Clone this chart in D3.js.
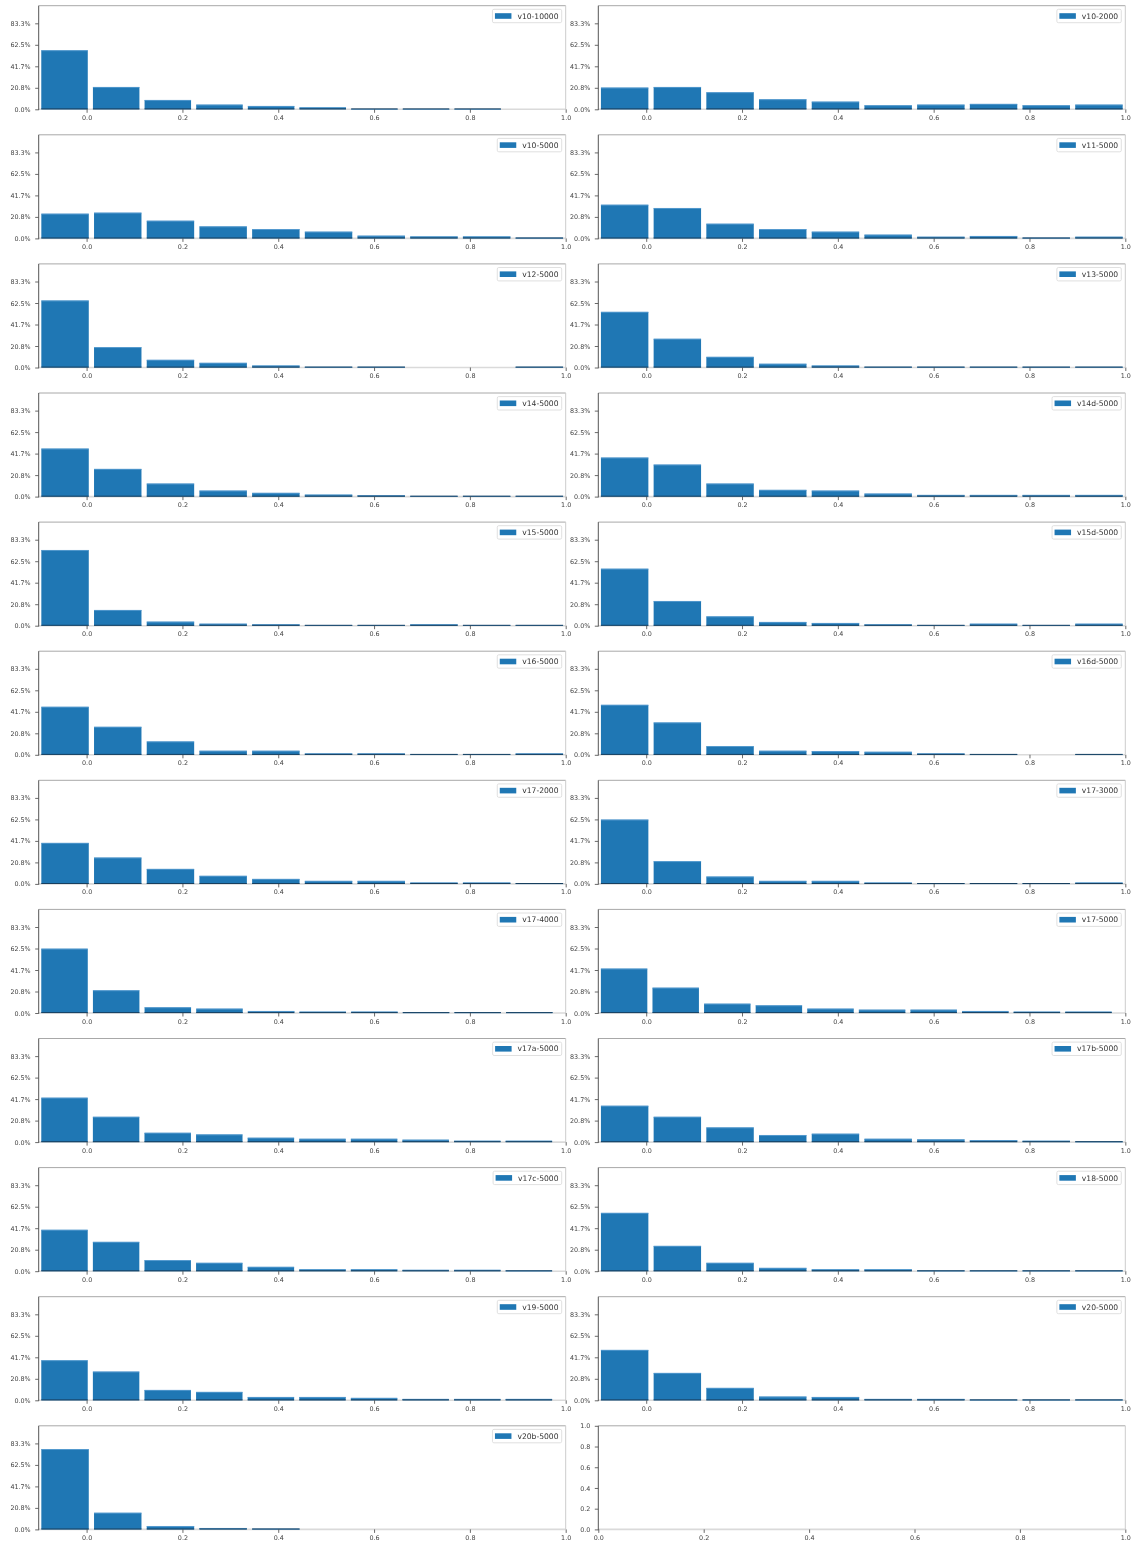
<!DOCTYPE html>
<html><head><meta charset="utf-8">
<script src="https://cdn.jsdelivr.net/npm/d3@7"></script>
<style>body{margin:0;background:#fff}svg{display:block;will-change:transform}text{text-rendering:geometricPrecision}</style>
</head><body>
<svg id="chart" width="1136" height="1547"></svg>
<script>
// ---------- data ----------
const panelNames = ["v10-10000","v10-2000","v10-5000","v11-5000","v12-5000","v13-5000",
  "v14-5000","v14d-5000","v15-5000","v15d-5000","v16-5000","v16d-5000",
  "v17-2000","v17-3000","v17-4000","v17-5000","v17a-5000","v17b-5000",
  "v17c-5000","v18-5000","v19-5000","v20-5000","v20b-5000"];

const v10_10000 = [57.2, 21.6, 9.0, 4.5, 3.2, 1.9, 0.3, 0.3, 0.3, 0];
const v10_2000  = [21.0, 21.6, 16.5, 9.7, 7.4, 3.9, 4.5, 5.2, 3.9, 4.5];
const v10_5000  = [23.9, 24.9, 17.1, 11.6, 9.0, 6.5, 2.6, 1.9, 1.9, 0.6];
const v11_5000  = [32.6, 29.4, 14.2, 9.0, 6.5, 3.6, 1.6, 2.3, 0.6, 1.6];
const v12_5000  = [64.9, 19.7, 7.4, 4.5, 1.9, 0.6, 0.6, 0, 0, 0.6];
const v13_5000  = [53.9, 27.8, 10.3, 3.6, 1.9, 0.6, 0.6, 0.6, 0.6, 0.6];
const v14_5000  = [46.5, 26.8, 12.6, 5.8, 3.6, 1.9, 1.3, 0.6, 0.6, 0.6];
const v14d_5000 = [37.8, 31.0, 12.6, 6.5, 5.8, 2.9, 1.6, 1.6, 1.6, 1.6];
const v15_5000  = [73.3, 15.2, 3.9, 1.9, 1.3, 0.6, 0.6, 1.3, 0.6, 0.6];
const v15d_5000 = [55.2, 23.9, 9.0, 3.6, 2.6, 1.3, 0.6, 1.9, 0.6, 1.9];
const v16_5000  = [46.5, 27.1, 12.9, 3.9, 3.9, 1.3, 1.3, 0.6, 0.6, 1.3];
const v16d_5000 = [48.4, 31.3, 8.4, 3.9, 3.6, 2.9, 1.3, 0.6, 0, 0.6];
const v17_2000  = [39.7, 25.5, 14.5, 7.8, 4.8, 2.9, 2.9, 1.3, 1.3, 0.6];
const v17_3000  = [62.3, 22.0, 7.1, 2.9, 2.9, 1.3, 0.6, 0.6, 0.6, 1.3];
const v17_4000  = [62.3, 22.0, 5.5, 4.2, 1.9, 1.3, 1.3, 0.6, 0.6, 0.6];
const v17_5000  = [43.0, 24.5, 9.0, 7.4, 4.2, 3.2, 3.2, 1.9, 1.3, 1.3];
const v17a_5000 = [43.0, 24.5, 9.0, 7.4, 4.2, 3.2, 3.2, 2.3, 1.3, 1.3];
const v17b_5000 = [35.2, 24.5, 14.2, 6.8, 8.1, 3.2, 2.6, 1.9, 1.3, 0.6];
const v17c_5000 = [40.1, 28.4, 10.7, 8.1, 4.2, 1.9, 1.9, 1.3, 1.3, 0.6];
const v18_5000  = [56.5, 24.5, 8.1, 3.2, 1.9, 1.9, 0.6, 0.6, 0.6, 0.6];
const v19_5000  = [38.8, 27.8, 10.0, 8.1, 3.2, 3.2, 2.3, 1.3, 1.3, 1.3];
const v20_5000  = [48.8, 26.5, 12.0, 3.6, 3.2, 1.3, 1.3, 0.6, 0.6, 0.6];
const v20b_5000 = [77.8, 16.1, 3.2, 1.3, 0.6, 0, 0, 0, 0, 0];

const panelValues = [v10_10000, v10_2000, v10_5000, v11_5000, v12_5000, v13_5000,
  v14_5000, v14d_5000, v15_5000, v15d_5000, v16_5000, v16d_5000,
  v17_2000, v17_3000, v17_4000, v17_5000, v17a_5000, v17b_5000,
  v17c_5000, v18_5000, v19_5000, v20_5000, v20b_5000];

// upper edge of each histogram's bin range (lower edge is binStart)
const binStart = -0.1;
const binEnds = [0.978, 1.0, 1.0, 1.0, 1.0, 1.0,
  1.0, 1.0, 1.0, 1.0, 1.0, 1.0,
  1.0, 1.0, 0.978, 0.977, 0.977, 1.0,
  0.977, 1.0, 0.977, 1.0, 1.0];

const xTickValues = [0, 0.2, 0.4, 0.6, 0.8, 1.0];
const xTickLabels = ["0.0", "0.2", "0.4", "0.6", "0.8", "1.0"];
const yTickValues = [0, 20.83, 41.67, 62.5, 83.33];
const yTickLabels = ["0.0%", "20.8%", "41.7%", "62.5%", "83.3%"];
const emptyTickValues = [0, 0.2, 0.4, 0.6, 0.8, 1.0];
const emptyTickLabels = ["0.0", "0.2", "0.4", "0.6", "0.8", "1.0"];

// ---------- layout ----------
const colX = [[38.7, 565.7], [598.3, 1125.3]];
const rowTop0 = 5.7, rowPitch = 129.1, axH = 103.6;
const yMax = 100.4;
const barColor = "#1f77b4";
const tickFont = "DejaVu Sans";

const svg = d3.select("#chart");

function styleAxis(g) {
  g.select(".domain").remove();
  g.selectAll(".tick line").attr("stroke", "#444").attr("stroke-width", 0.8);
  g.selectAll(".tick text").attr("fill", "#444")
    .style("font-family", tickFont).style("font-size", "6.4px");
}

function drawFrame(g, x0, x1, top, bottom) {
  g.append("line").attr("x1", x0).attr("x2", x1).attr("y1", bottom).attr("y2", bottom)
    .attr("stroke", "#dadada").attr("stroke-width", 1.6);
}
function drawSpines(g, x0, x1, top, bottom) {
  g.append("line").attr("x1", x0).attr("x2", x1).attr("y1", top).attr("y2", top)
    .attr("stroke", "#a8a8a8").attr("stroke-width", 1);
  g.append("line").attr("x1", x1).attr("x2", x1).attr("y1", top).attr("y2", bottom)
    .attr("stroke", "#cccccc").attr("stroke-width", 1);
  g.append("line").attr("x1", x0).attr("x2", x0).attr("y1", top).attr("y2", bottom + 0.8)
    .attr("stroke", "#555").attr("stroke-width", 1);
}

const nPanels = 24;
for (let i = 0; i < nPanels; i++) {
  const row = Math.floor(i / 2), col = i % 2;
  const top = rowTop0 + row * rowPitch, bottom = top + axH;
  const [x0, x1] = colX[col];
  const g = svg.append("g");
  drawFrame(g, x0, x1, top, bottom);

  if (i >= panelNames.length) {
    // empty axes
    const x = d3.scaleLinear().domain([0, 1]).range([x0, x1]);
    const y = d3.scaleLinear().domain([0, 1]).range([bottom, top]);
    g.append("g").attr("transform", `translate(0,${bottom})`)
      .call(d3.axisBottom(x).tickValues(emptyTickValues).tickFormat((d, k) => emptyTickLabels[k]).tickSize(3.5).tickPadding(2.5))
      .call(styleAxis);
    g.append("g").attr("transform", `translate(${x0},0)`)
      .call(d3.axisLeft(y).tickValues(emptyTickValues).tickFormat((d, k) => emptyTickLabels[k]).tickSize(3.5).tickPadding(4.5))
      .call(styleAxis);
    drawSpines(g, x0, x1, top, bottom);
    continue;
  }

  const x = d3.scaleLinear().domain([-0.1, 1.0]).range([x0, x1]);
  const y = d3.scaleLinear().domain([0, yMax]).range([bottom, top]);
  const vals = panelValues[i];
  const w = (binEnds[i] - binStart) / vals.length;
  const bars = vals.map((v, j) => ({ v, a: binStart + j * w + 0.05 * w, b: binStart + j * w + 0.95 * w }))
    .filter(d => d.v > 0);

  const bg = g.append("g");
  bg.selectAll("rect.bar").data(bars).join("rect").attr("class", "bar")
    .attr("x", d => x(d.a)).attr("width", d => x(d.b) - x(d.a))
    .attr("y", d => y(d.v)).attr("height", d => y(0) - y(d.v))
    .attr("fill", barColor);
  bg.selectAll("line.topedge").data(bars).join("line").attr("class", "topedge")
    .attr("x1", d => x(d.a)).attr("x2", d => x(d.b))
    .attr("y1", d => y(d.v) + 0.4).attr("y2", d => y(d.v) + 0.4)
    .attr("stroke", "#5d9fd3").attr("stroke-width", 0.8);
  bg.selectAll("line.botedge").data(bars).join("line").attr("class", "botedge")
    .attr("x1", d => x(d.a)).attr("x2", d => x(d.b))
    .attr("y1", bottom - 0.4).attr("y2", bottom - 0.4)
    .attr("stroke", "#173f5f").attr("stroke-width", 1);

  g.append("g").attr("transform", `translate(0,${bottom})`)
    .call(d3.axisBottom(x).tickValues(xTickValues).tickFormat((d, k) => xTickLabels[k]).tickSize(3.5).tickPadding(2.5))
    .call(styleAxis);
  g.append("g").attr("transform", `translate(${x0},0)`)
    .call(d3.axisLeft(y).tickValues(yTickValues).tickFormat((d, k) => yTickLabels[k]).tickSize(3.5).tickPadding(4.5))
    .call(styleAxis);
  drawSpines(g, x0, x1, top, bottom);

  // legend
  const lg = g.append("g");
  const box = lg.append("rect");
  const txt = lg.append("text").text(panelNames[i])
    .style("font-family", tickFont).style("font-size", "7.6px").attr("fill", "#333");
  const tw = txt.node().getComputedTextLength();
  const bx1 = x1 - 4, bx0 = bx1 - (2.5 + 16.5 + 6 + tw + 3.2);
  const by0 = top + 3.6, bh = 13.4;
  box.attr("x", bx0).attr("y", by0).attr("width", bx1 - bx0).attr("height", bh)
    .attr("rx", 1.5).attr("fill", "#fff").attr("fill-opacity", 0.85)
    .attr("stroke", "#d8d8d8").attr("stroke-width", 0.8);
  lg.append("rect").attr("x", bx0 + 2.5).attr("y", by0 + bh / 2 - 2.8).attr("width", 16.5).attr("height", 5.6)
    .attr("fill", barColor);
  txt.attr("x", bx0 + 2.5 + 16.5 + 6).attr("y", by0 + bh / 2).attr("dy", "0.35em");
}
</script>
</body></html>
